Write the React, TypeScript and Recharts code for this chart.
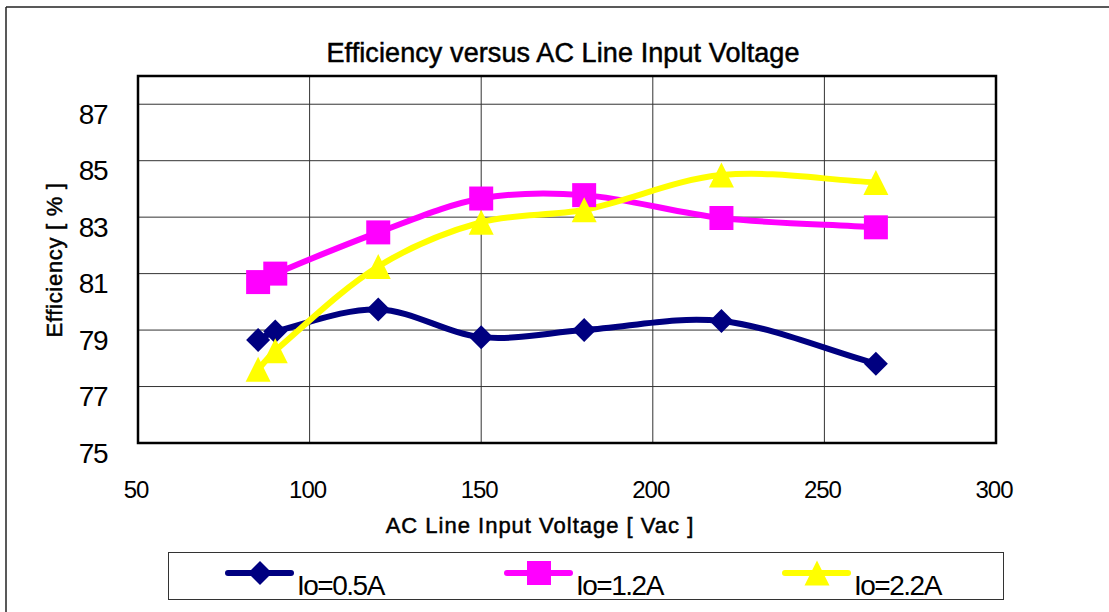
import React from "react";
import { LineChart, Line, XAxis, YAxis, CartesianGrid, ReferenceArea } from "recharts";

const voltages = [85, 90, 120, 150, 180, 220, 265];
const eff05 = [78.65, 78.95, 79.73, 78.75, 79.0, 79.32, 77.81];
const eff12 = [80.7, 81.0, 82.46, 83.66, 83.78, 82.97, 82.64];
const eff22 = [77.61, 78.27, 81.25, 82.82, 83.26, 84.49, 84.23];

const xTicks = [50, 100, 150, 200, 250, 300];
const yTicks = [75, 77, 79, 81, 83, 85, 87];

const seriesNames = ["Io=0.5A", "Io=1.2A", "Io=2.2A"];
const seriesColors = ["#000080", "#FF00FF", "#FFFF00"];
const seriesKeys = ["a", "b", "c"];
const seriesShapes = ["diamond", "square", "triangle"];

const rows = voltages.map((v, i) => ({ v, a: eff05[i], b: eff12[i], c: eff22[i] }));

const FONT = "'Liberation Sans', Arial, sans-serif";

const excelCurve: any = (context: any) => {
  let pts: number[][] = [];
  return {
    areaStart() {},
    areaEnd() {},
    lineStart() {
      pts = [];
    },
    lineEnd() {
      const n = pts.length;
      if (!n) return;
      context.moveTo(pts[0][0], pts[0][1]);
      if (n === 1) return;
      const dist = (p: number[], q: number[]) => Math.hypot(q[0] - p[0], q[1] - p[1]);
      for (let i = 0; i < n - 1; i++) {
        const p0 = pts[Math.max(0, i - 1)];
        const p1 = pts[i];
        const p2 = pts[i + 1];
        const p3 = pts[Math.min(n - 1, i + 2)];
        const d01 = dist(p0, p1);
        const d12 = dist(p1, p2);
        const d23 = dist(p2, p3);
        const w1 = d01 + d12 > 0 ? d12 / (d01 + d12) / 3 : 0;
        const w2 = d12 + d23 > 0 ? d12 / (d12 + d23) / 3 : 0;
        const c1x = p1[0] + (p2[0] - p0[0]) * w1;
        const c1y = p1[1] + (p2[1] - p0[1]) * w1;
        const c2x = p2[0] - (p3[0] - p1[0]) * w2;
        const c2y = p2[1] - (p3[1] - p1[1]) * w2;
        context.bezierCurveTo(c1x, c1y, c2x, c2y, p2[0], p2[1]);
      }
    },
    point(x: number, y: number) {
      pts.push([+x, +y]);
    },
  };
};

function markerPath(shape: string, cx: number, cy: number): string {
  if (shape === "diamond") {
    const r = 12;
    return `M${cx},${cy - r}L${cx + r},${cy}L${cx},${cy + r}L${cx - r},${cy}Z`;
  }
  if (shape === "square") {
    const h = 12;
    return `M${cx - h},${cy - h}L${cx + h},${cy - h}L${cx + h},${cy + h}L${cx - h},${cy + h}Z`;
  }
  const w = 12.5;
  const h = 12.5;
  return `M${cx},${cy - h}L${cx + w},${cy + h}L${cx - w},${cy + h}Z`;
}

const makeDot = (shape: string, color: string) => (props: any) => {
  const { cx, cy, index } = props;
  if (cx == null || cy == null) return <g key={`d-${shape}-${index}`} />;
  return <path key={`d-${shape}-${index}`} d={markerPath(shape, cx, cy)} fill={color} stroke="none" />;
};

const renderYTick = (props: any) => {
  const { y, payload, index } = props;
  return (
    <text
      key={`yt-${index}`}
      x={107}
      y={y + 19.5}
      textAnchor="end"
      fontSize={28}
      letterSpacing={-1.5}
      fontFamily={FONT}
      fill="#000"
    >
      {payload.value}
    </text>
  );
};

const renderXTick = (props: any) => {
  const { x, payload, index } = props;
  return (
    <text
      key={`xt-${index}`}
      x={x - 2}
      y={498}
      textAnchor="middle"
      fontSize={24}
      letterSpacing={-1}
      fontFamily={FONT}
      fill="#000"
    >
      {payload.value}
    </text>
  );
};

const legendLineStarts = [228, 507, 785];

export default function App() {
  return (
    <div style={{ position: "absolute", left: 0, top: 0, width: 1109, height: 612, background: "#fff" }}>
      <LineChart
        width={1109}
        height={612}
        data={rows}
        margin={{ top: 76, right: 113, bottom: 109, left: 78 }}
      >
        <CartesianGrid stroke="#333" strokeWidth={1} />
        <XAxis
          dataKey="v"
          type="number"
          domain={[50, 300]}
          ticks={xTicks}
          height={60}
          axisLine={false}
          tickLine={false}
          tick={renderXTick}
          interval={0}
        />
        <YAxis
          type="number"
          domain={[75, 88]}
          ticks={yTicks}
          width={60}
          axisLine={false}
          tickLine={false}
          tick={renderYTick}
          interval={0}
        />
        <ReferenceArea x1={50} x2={300} y1={75} y2={88} fill="none" fillOpacity={0} stroke="#000" strokeWidth={2.5} ifOverflow="visible" />
        {seriesKeys.map((k, i) => (
          <Line
            key={k}
            dataKey={k}
            type={excelCurve}
            stroke={seriesColors[i]}
            strokeWidth={6}
            dot={makeDot(seriesShapes[i], seriesColors[i])}
            activeDot={false}
            isAnimationActive={false}
          />
        ))}
      </LineChart>
      <svg
        width={1109}
        height={612}
        style={{ position: "absolute", left: 0, top: 0, pointerEvents: "none" }}
      >
        <line x1={6} y1={7} x2={1109} y2={7} stroke="#222" strokeWidth={1.5} />
        <line x1={6} y1={7} x2={6} y2={612} stroke="#222" strokeWidth={1.5} />
        <text
          x={563}
          y={62}
          textAnchor="middle"
          fontSize={27}
          letterSpacing={0.1}
          stroke="#000"
          strokeWidth={0.5}
          fontFamily={FONT}
          fill="#000"
        >
          Efficiency versus AC Line Input Voltage
        </text>
        <text
          x={540}
          y={533}
          textAnchor="middle"
          fontSize={22}
          letterSpacing={1}
          stroke="#000"
          strokeWidth={0.5}
          fontFamily={FONT}
          fill="#000"
        >
          AC Line Input Voltage [ Vac ]
        </text>
        <text
          transform="translate(62,260) rotate(-90)"
          x={0}
          y={0}
          textAnchor="middle"
          fontSize={22}
          letterSpacing={0.7}
          stroke="#000"
          strokeWidth={0.5}
          fontFamily={FONT}
          fill="#000"
        >
          Efficiency [ % ]
        </text>
        <rect x={168.5} y={552.5} width={835} height={47} fill="none" stroke="#333" strokeWidth={1} />
        {seriesNames.map((name, i) => {
          const x0 = legendLineStarts[i];
          return (
            <g key={name}>
              <line x1={x0} y1={573} x2={x0 + 63} y2={573} stroke={seriesColors[i]} strokeWidth={6} strokeLinecap="round" />
              <path d={markerPath(seriesShapes[i], x0 + 32, 573)} fill={seriesColors[i]} />
              <text x={x0 + 69} y={595} fontSize={28} letterSpacing={-1.5} fontFamily={FONT} fill="#000">
                {name}
              </text>
            </g>
          );
        })}
      </svg>
    </div>
  );
}
